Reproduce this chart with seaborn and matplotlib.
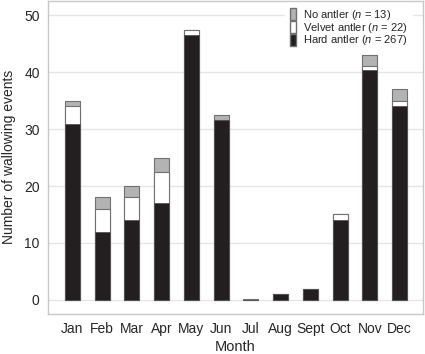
import numpy as np
import pandas as pd
import seaborn as sns
import matplotlib.pyplot as plt
from matplotlib.patches import Patch

months = ['Jan', 'Feb', 'Mar', 'Apr', 'May', 'Jun', 'Jul', 'Aug', 'Sept', 'Oct', 'Nov', 'Dec']
hard = [31, 12, 14, 17, 46.5, 31.6, 0, 1, 1.9, 14, 40.4, 34]
velvet = [3, 4, 4, 5.5, 0.9, 0, 0, 0, 0, 1, 0.8, 1]
noantler = [1, 2, 2, 2.5, 0, 0.9, 0.15, 0, 0, 0, 1.8, 2]

d = pd.DataFrame({'month': months, 'hard': hard, 'velvet': velvet, 'none': noantler})
d['hv'] = d.hard + d.velvet
d['total'] = d.hv + d['none']

sns.set_style('white')
plt.rcParams['font.family'] = ['Liberation Sans', 'DejaVu Sans']
plt.rcParams['mathtext.fontset'] = 'custom'
plt.rcParams['mathtext.it'] = 'Liberation Sans:italic'
plt.rcParams['mathtext.rm'] = 'Liberation Sans'

fig = plt.figure(figsize=(4.25, 3.54), dpi=100)
ax = fig.add_axes([0.113, 0.113, 0.882, 0.885])

edge = '#707070'
sns.barplot(data=d, x='month', y='total', color='#b3b3b3', saturation=1, width=0.5,
            edgecolor=edge, linewidth=0.8, ax=ax, zorder=2)
sns.barplot(data=d, x='month', y='hv', color='white', saturation=1, width=0.5,
            edgecolor=edge, linewidth=0.8, ax=ax, zorder=3)
sns.barplot(data=d, x='month', y='hard', color='#231f20', saturation=1, width=0.5,
            edgecolor='#555555', linewidth=0.6, ax=ax, zorder=4)

ax.set_xlim(-0.82, 11.78)
ax.set_ylim(-2.5, 52.6)
ax.set_yticks([0, 10, 20, 30, 40, 50])
ax.yaxis.grid(True, color='#e6e6e6', linewidth=1, zorder=0)
ax.set_axisbelow(True)
for s in ax.spines.values():
    s.set_color('#c8c8c8')
    s.set_linewidth(1)
ax.tick_params(axis='both', direction='out', length=3, color='#c8c8c8', labelsize=10, pad=3)
ax.set_xlabel('Month', fontsize=10.5, labelpad=3)
ax.set_ylabel('Number of wallowing events', fontsize=10, labelpad=6)

handles = [Patch(facecolor='#b3b3b3', edgecolor=edge, label='No antler ($n$ = 13)'),
           Patch(facecolor='white', edgecolor=edge, label='Velvet antler ($n$ = 22)'),
           Patch(facecolor='#231f20', edgecolor=edge, label='Hard antler ($n$ = 267)')]
leg = ax.legend(handles=handles, loc='upper right', bbox_to_anchor=(0.971, 0.992), frameon=True,
                fontsize=8, handlelength=0.55, handleheight=1.3, handletextpad=0.6,
                labelspacing=-0.1, borderpad=0.4, borderaxespad=0.0,
                framealpha=1, fancybox=False)
leg.get_frame().set_edgecolor('white')
leg.set_zorder(10)

fig.savefig('out.png', dpi=100)
